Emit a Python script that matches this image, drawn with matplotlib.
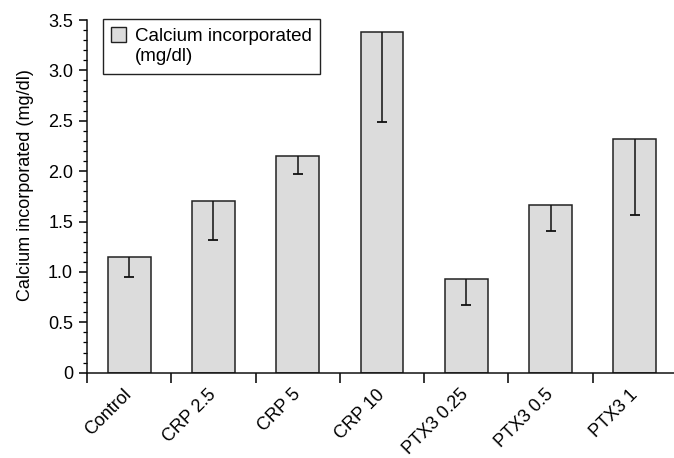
import matplotlib
matplotlib.use("Agg")
import matplotlib.pyplot as plt
from matplotlib.patches import Patch
import numpy as np

categories = ["Control", "CRP 2.5", "CRP 5", "CRP 10", "PTX3 0.25", "PTX3 0.5", "PTX3 1"]
means = [1.15, 1.70, 2.15, 3.38, 0.93, 1.66, 2.32]
lower_err = [0.20, 0.38, 0.18, 0.89, 0.26, 0.25, 0.76]
y_ticks = [0, 0.5, 1.0, 1.5, 2.0, 2.5, 3.0, 3.5]
y_tick_labels = ["0", "0.5", "1.0", "1.5", "2.0", "2.5", "3.0", "3.5"]
legend_lines = ["Calcium incorporated", "(mg/dl)"]
y_label = "Calcium incorporated (mg/dl)"

plt.rcParams['font.family'] = ['Liberation Sans', 'DejaVu Sans']
FS = 13

W, H = 674, 458
fig = plt.figure(figsize=(W / 100, H / 100), dpi=100)
left, right, bottom, top = 87, 677, 372.7, 20
ax = fig.add_axes([left / W, 1 - bottom / H, (right - left) / W, (bottom - top) / H])

x = np.arange(len(categories))
means_a = np.array(means)
lows = means_a - np.array(lower_err)
bars = ax.bar(x, means_a, width=0.51, color="#dcdcdc", edgecolor="#222222",
              linewidth=1.1, zorder=2)
ax.vlines(x, lows, means_a, color="#111111", linewidth=1.1, zorder=3)
ax.plot(x, lows, linestyle="none", marker="_", markersize=7, markeredgewidth=1.3,
        color="#111111", zorder=3)

ax.set_xlim(-0.5, len(categories) - 0.5)
ax.set_ylim(0, 3.5)

ax.set_xticks(np.arange(len(categories) + 1) - 0.5)
ax.set_xticklabels([])
ax.set_xticks(x, minor=True)
ax.set_xticklabels(categories, minor=True, rotation=45, ha="right", va="center",
                   rotation_mode="anchor", fontsize=FS)
ax.tick_params(axis="x", which="major", direction="out", length=7, width=1.1)
ax.tick_params(axis="x", which="minor", length=0, pad=14)

ax.set_yticks(y_ticks)
ax.set_yticklabels(y_tick_labels, fontsize=FS)
ax.set_yticks(np.arange(0, 3.51, 0.1), minor=True)
ax.tick_params(axis="y", which="major", direction="out", length=6, width=1.1, pad=4)
ax.tick_params(axis="y", which="minor", direction="out", length=3, width=0.9)

ax.set_ylabel(y_label, fontsize=FS)
ax.yaxis.set_label_coords((34 - left) / (right - left), (bottom - 185.5) / (bottom - top))

for s in ["top", "right"]:
    ax.spines[s].set_visible(False)
for s in ["left", "bottom"]:
    ax.spines[s].set_linewidth(1.1)
    ax.spines[s].set_color("#111111")

handles = [Patch(facecolor="#dcdcdc", edgecolor="#222222", linewidth=1.0),
           Patch(visible=False)]
leg = fig.legend(handles, legend_lines, loc="upper left",
                 bbox_to_anchor=(103 / W, 1 - 19 / H),
                 bbox_transform=fig.transFigure, fontsize=13.5, fancybox=False,
                 framealpha=1, edgecolor="#222222", borderaxespad=0,
                 handlelength=0.8, handleheight=0.8, handletextpad=0.45,
                 borderpad=0.45, labelspacing=0.12)
leg.get_frame().set_linewidth(1.0)

fig.savefig("out.png", dpi=100)
